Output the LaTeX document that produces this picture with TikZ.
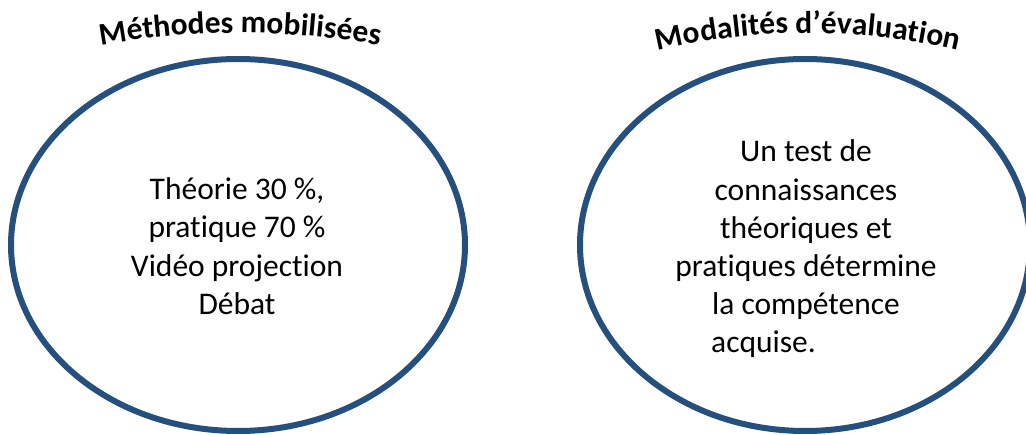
\documentclass[tikz,border=0pt]{standalone}
\usepackage{fontspec}
\setmainfont{Carlito}[Ligatures=NoCommon]
\usetikzlibrary{shapes.geometric,decorations.text}
\definecolor{ringblue}{RGB}{37,80,125}
\tikzset{
  ring/.style={ellipse, draw=ringblue, line width=6pt, inner sep=0pt, fill=none},
  bodytext/.style={anchor=base, inner sep=0pt, font=\fontsize{31.5}{38}\selectfont},
  bodyleft/.style={anchor=base west, inner sep=0pt, font=\fontsize{31.5}{38}\selectfont},
}
\begin{document}
\begin{tikzpicture}[x=1pt,y=1pt]
\useasboundingbox (0,0) rectangle (1026,434);
\clip (0,0) rectangle (1026,434);
% ellipses
\node[ring, minimum width=454pt, minimum height=372pt] (e1) at (238,189) {};
\node[ring, minimum width=450pt, minimum height=372pt] (e2) at (805,189) {};
% titles
\path[decorate, decoration={text along path, text align=center,
  text={|\fontsize{31.5}{36}\selectfont\bfseries|Méthodes mobilisées}}]
  ([shift={(240pt,-399pt)}]102:800pt) arc[start angle=102, end angle=78, radius=800pt];
\path[decorate, decoration={text along path, text align=center,
  text={|\fontsize{31.5}{36}\selectfont\bfseries|Modalités d’évaluation}}]
  ([shift={(808pt,-249pt)}]105:650pt) arc[start angle=105, end angle=75, radius=650pt];
% left text
\node[bodytext] (l1) at (237,234) {Théorie 30 \%,};
\node[bodytext] (l2) at (237,196) {pratique 70 \%};
\node[bodytext] (l3) at (237,157) {Vidéo projection};
\node[bodytext] (l4) at (237,119) {Débat};
% right text
\node[bodytext] (r1) at (806,272) {Un test de};
\node[bodytext] (r2) at (806,233) {connaissances};
\node[bodytext] (r3) at (806,195) {théoriques et};
\node[bodytext] (r4) at (806,157) {pratiques détermine};
\node[bodytext] (r5) at (806,119) {la compétence};
\node[bodyleft] (r6) at (711,81) {acquise.};
\end{tikzpicture}
\end{document}
